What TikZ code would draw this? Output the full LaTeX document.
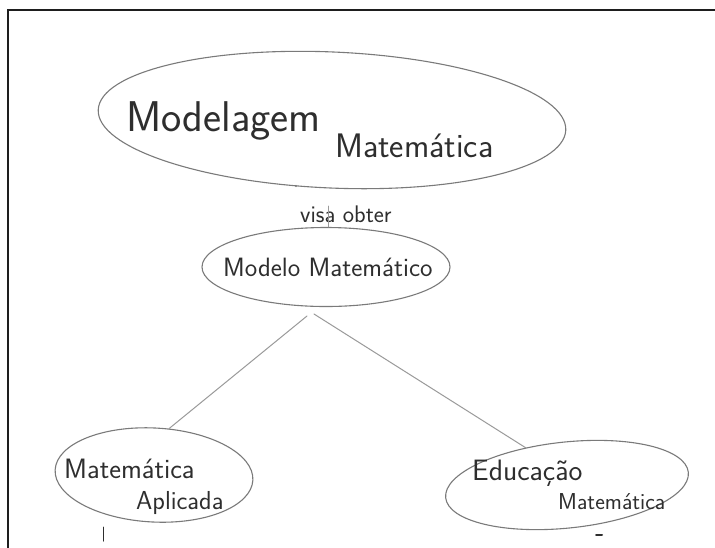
\documentclass[tikz,border=0pt]{standalone}
\usetikzlibrary{shapes.geometric}
\definecolor{pen}{HTML}{2E2E2E}
\definecolor{pencil}{HTML}{7A7A7A}
\definecolor{faint}{HTML}{9A9A9A}
\definecolor{rule}{HTML}{1E1E1E}
\begin{document}
\begin{tikzpicture}[x=1pt,y=-1pt,
  blob/.style={ellipse, draw=pencil, line width=1.1pt, inner sep=0pt},
  txt/.style={text=pen, inner sep=0pt, anchor=base west},
  con/.style={draw=faint, line width=1pt, line cap=round},
  fs/.style={font=\sffamily\fontsize{#1}{#1}\selectfont}]
  % page and frame
  \useasboundingbox (0,0) rectangle (715,547);
  \fill[white] (0,0) rectangle (715,547);
  \draw[rule, line width=2.2pt] (8,548) -- (8,10) -- (716,10);

  % concept ellipses
  \node[blob, minimum width=468pt, minimum height=136pt, rotate=-2.5] (mm) at (332,120) {};
  \node[blob, minimum width=248pt, minimum height=79pt] (mod) at (326,267) {};
  \node[blob, minimum width=198pt, minimum height=94pt, rotate=-3] (apl) at (154,475) {};
  \node[blob, minimum width=244pt, minimum height=86pt, rotate=6] (edu) at (567,485) {};

  % labels
  \node[txt, fs=43] (mmA) at (126,131) {Modelagem};
  \node[txt, fs=34] (mmB) at (335,157) {Matemática};
  \node[txt, fs=24] (link) at (300,222) {visa obter};
  \node[txt, fs=26.5] (modT) at (223,276) {Modelo Matemático};
  \node[txt, fs=28] (aplA) at (64,478) {Matemática};
  \node[txt, fs=26] (aplB) at (136,509) {Aplicada};
  \node[txt, fs=29.5] (eduA) at (472,480) {Educação};
  \node[txt, fs=23] (eduB) at (558,509) {Matemática};

  % connectors
  \coordinate (dot) at (296,186);
  \fill[pencil] (dot) circle (1.2pt);
  \coordinate (vtop) at (328,206);
  \draw[con] (vtop) -- (vtop |- mod.north);
  \coordinate (forkL) at (307,316);
  \coordinate (forkR) at (314,314);
  \draw[con] (forkL) -- (apl.75);
  \draw[con] (forkR) -- (edu.132);

  % links leaving the lower edge
  \coordinate (aplOut) at (103,527);
  \draw[con, draw=pen] (aplOut) -- ++(0,14);
  \coordinate (eduOut) at (596,535);
  \draw[con, draw=pen, line width=2pt] (eduOut) -- ++(6,0);
\end{tikzpicture}
\end{document}
